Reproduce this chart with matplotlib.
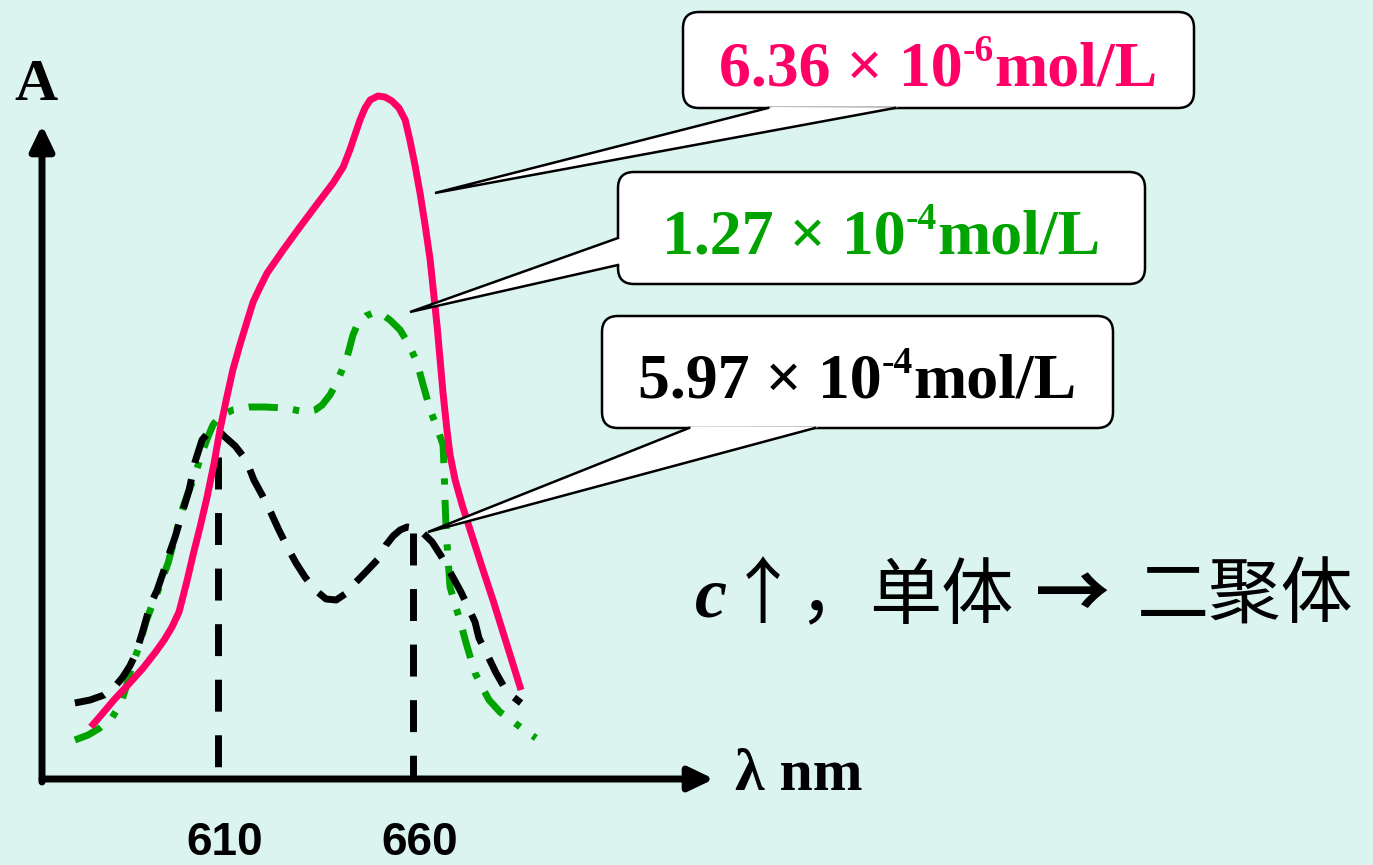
import numpy as np
import matplotlib
matplotlib.use("Agg")
import matplotlib.pyplot as plt
import matplotlib.transforms as mtransforms
from matplotlib.patches import FancyBboxPatch, Polygon

plt.rcParams['mathtext.fontset'] = 'custom'
plt.rcParams['mathtext.it'] = 'Liberation Serif:italic:bold'

# 6.36e-6 mol/L (solid, pink)
lam_pink = [577.4, 580.5, 583.3, 586.9, 590.8, 593.8, 596.2, 598.2, 600.0, 601.0,
            602.1, 603.6, 605.4, 607.2, 609.0, 610.5, 612.1, 613.8, 615.6, 617.4,
            619.0, 620.8, 622.6, 626.7, 631.0, 636.2, 639.5, 642.1, 643.8, 645.1,
            646.4, 647.7, 649.0, 651.0, 652.8, 654.6, 656.4, 658.0, 659.2, 660.5,
            661.8, 663.1, 664.4, 666.2, 667.7, 668.7, 669.5, 670.8, 672.6, 674.9,
            677.7, 680.5, 684.1, 687.7]
A_pink = [0.051, 0.065, 0.078, 0.093, 0.110, 0.125, 0.138, 0.151, 0.166, 0.181,
          0.198, 0.223, 0.251, 0.281, 0.315, 0.348, 0.378, 0.408, 0.433, 0.456,
          0.476, 0.491, 0.505, 0.528, 0.551, 0.578, 0.595, 0.611, 0.628, 0.643,
          0.658, 0.670, 0.678, 0.682, 0.681, 0.677, 0.670, 0.658, 0.638, 0.613,
          0.585, 0.553, 0.518, 0.451, 0.385, 0.348, 0.323, 0.298, 0.273, 0.245,
          0.211, 0.178, 0.133, 0.088]

# 1.27e-4 mol/L (dash-dot, green)
lam_green = [573.3, 576.7, 579.7, 582.8, 585.1, 586.2, 588.0, 589.7, 591.5, 593.1,
             594.4, 595.9, 597.2, 599.0, 600.8, 602.3, 604.1, 605.9, 607.4, 608.7,
             610.5, 613.8, 618.2, 622.1, 627.2, 632.3, 634.9, 636.7, 638.7, 640.5,
             641.8, 643.1, 644.6, 645.9, 647.9, 649.7, 651.5, 654.1, 656.7, 658.7,
             661.0, 662.6, 664.4, 666.2, 667.7, 668.0, 668.2, 668.5, 669.0, 669.5,
             670.8, 671.8, 673.6, 675.9, 677.7, 679.5, 682.3, 685.1, 688.5, 691.5]
A_green = [0.038, 0.043, 0.050, 0.060, 0.075, 0.088, 0.113, 0.131, 0.156, 0.173,
           0.185, 0.201, 0.215, 0.241, 0.268, 0.285, 0.303, 0.325, 0.341, 0.353,
           0.362, 0.368, 0.371, 0.371, 0.370, 0.366, 0.368, 0.373, 0.383, 0.396,
           0.408, 0.421, 0.443, 0.455, 0.462, 0.465, 0.465, 0.458, 0.448, 0.435,
           0.416, 0.393, 0.368, 0.350, 0.333, 0.306, 0.278, 0.248, 0.218, 0.191,
           0.173, 0.161, 0.135, 0.105, 0.091, 0.078, 0.066, 0.058, 0.048, 0.040]

# 5.97e-4 mol/L (dashed, black)
lam_black = [573.3, 577.2, 580.8, 583.3, 585.6, 587.4, 589.0, 590.8, 592.6, 594.4,
             595.9, 597.2, 599.0, 600.8, 602.6, 604.1, 605.9, 607.4, 609.0, 610.5,
             611.8, 614.4, 617.2, 619.2, 621.3, 623.6, 625.6, 627.9, 630.0, 632.3,
             634.9, 637.7, 640.3, 642.6, 644.9, 647.9, 651.3, 653.1, 654.9, 656.7,
             658.5, 660.3, 662.3, 664.9, 667.2, 669.5, 672.3, 674.1, 675.9, 676.9,
             678.7, 681.3, 684.1, 687.7]
A_black = [0.075, 0.078, 0.083, 0.090, 0.101, 0.112, 0.125, 0.148, 0.173, 0.188,
           0.205, 0.221, 0.241, 0.265, 0.288, 0.316, 0.338, 0.345, 0.347, 0.346,
           0.341, 0.332, 0.318, 0.298, 0.283, 0.265, 0.248, 0.230, 0.215, 0.201,
           0.188, 0.179, 0.178, 0.184, 0.194, 0.206, 0.220, 0.233, 0.242, 0.248,
           0.251, 0.250, 0.246, 0.236, 0.222, 0.206, 0.186, 0.171, 0.156, 0.140,
           0.126, 0.105, 0.086, 0.075]

peak_lam = [610, 660]
peak_A = [0.321, 0.245]
conc = ['6.36', '1.27', '5.97']
expo = ['-6', '-4', '-4']

bg = '#DCF4F0'
pink = '#FF0066'
green = '#00A300'

fig = plt.figure(figsize=(13.73, 8.65), dpi=100, facecolor=bg)
ax = fig.add_axes([0, 0, 1, 1])
ax.set_facecolor(bg)
ax.set_xlim(554.1, 906.15)
ax.set_ylim(-0.087, 0.778)
ax.axis('off')

# pixel coordinates (origin top-left) for the decorations
pix = mtransforms.Affine2D().scale(0.01, -0.01).translate(0, 8.65) + fig.dpi_scale_trans

# curves
ax.plot(lam_pink, A_pink, color=pink, lw=5, solid_capstyle='butt',
        solid_joinstyle='round', zorder=3)
ax.plot(lam_green, A_green, color=green, lw=5, dashes=(4.2, 2.2, 0.9, 2.2), zorder=2)
ax.plot(lam_black, A_black, color='black', lw=5, dashes=(4.4, 2.4), zorder=2)
for lam, a in zip(peak_lam, peak_A):
    ax.plot([lam, lam], [a, 0], color='black', lw=5, dashes=(4.6, 3.4), zorder=1)

# axes with arrows
arr = dict(arrowstyle='-|>,head_length=0.75,head_width=0.36', lw=5, color='black',
           mutation_scale=20, shrinkA=0, shrinkB=0)
ax.annotate('', xy=(42, 125), xytext=(42, 782), xycoords=pix, textcoords=pix, arrowprops=arr)
ax.annotate('', xy=(714, 779), xytext=(42, 779), xycoords=pix, textcoords=pix, arrowprops=arr)

ax.text(36, 100, 'A', transform=pix, fontsize=43, fontweight='bold',
        family='Liberation Serif', ha='center', va='baseline')
ax.text(735, 790, 'λ nm', transform=pix, fontsize=43, fontweight='bold',
        family='Liberation Serif', ha='left', va='baseline')
for lam, px in zip(peak_lam, [225, 420]):
    ax.text(px, 855, str(lam), transform=pix, fontsize=33, fontweight='bold',
            family='Liberation Sans', ha='center', va='baseline')

renderer = fig.canvas.get_renderer()


def callout(box, base, tip, c, e, color):
    x0, y0, x1, y1 = box
    ax.add_patch(FancyBboxPatch((x0, y0), x1 - x0, y1 - y0,
                                boxstyle='round,pad=0,rounding_size=16',
                                fc='white', ec='black', lw=1.8, transform=pix, zorder=5))
    cover = []
    for bx, by in base:
        dx, dy = bx - tip[0], by - tip[1]
        n = np.hypot(dx, dy)
        cover.append((bx + 4 * dx / n, by + 4 * dy / n))
    ax.add_patch(Polygon([cover[0], tip, cover[1]], closed=True, fc='white', ec='none',
                         transform=pix, zorder=6))
    ax.plot([base[0][0], tip[0], base[1][0]], [base[0][1], tip[1], base[1][1]],
            color='black', lw=1.8, transform=pix, zorder=7, solid_joinstyle='miter')
    # text: c × 10^e mol/L, superscript set by hand
    yb = (y0 + y1) / 2 + 25
    kw = dict(transform=pix, color=color, fontweight='bold', family='Liberation Serif',
              ha='left', va='baseline', zorder=8)
    parts = [ax.text(0, yb, c + ' × 10', fontsize=46, **kw),
             ax.text(0, yb - 24, e, fontsize=27, **kw),
             ax.text(0, yb, 'mol/L', fontsize=46, **kw)]
    widths = [t.get_window_extent(renderer).width for t in parts]
    x = (x0 + x1) / 2 - sum(widths) / 2
    for t, w in zip(parts, widths):
        t.set_x(x)
        x += w


callout((683, 12, 1194, 108), [(768, 108), (895, 108)], (435, 193), conc[0], expo[0], pink)
callout((618, 172, 1145, 284), [(618, 238), (618, 265)], (410, 312), conc[1], expo[1], green)
callout((602, 316, 1113, 428), [(689, 428), (815, 428)], (428, 532), conc[2], expo[2], 'black')

# c ↑, 单体 → 二聚体
cjk = ['Noto Sans CJK SC', 'DejaVu Sans']
ax.text(694, 597, '$c$↑，', transform=pix, fontsize=52, family=cjk, ha='left', va='center')
ax.text(941, 597, '单体', transform=pix, fontsize=52, family=cjk, ha='center', va='center')
ax.text(1073, 597, '→', transform=pix, fontsize=54, family=cjk, fontweight='bold',
        ha='center', va='center')
ax.text(1245, 597, '二聚体', transform=pix, fontsize=52, family=cjk, ha='center', va='center')

fig.savefig('out.png', dpi=100, facecolor=bg)
